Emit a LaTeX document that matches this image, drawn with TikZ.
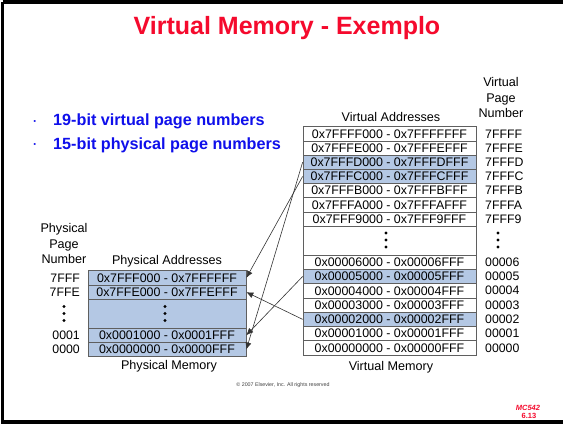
\documentclass[tikz,border=0pt]{standalone}
\usepackage{fontspec}
\setmainfont{Liberation Sans}
\usetikzlibrary{arrows.meta}
\definecolor{titlered}{RGB}{245,10,45}
\definecolor{bulletblue}{RGB}{15,15,235}
\definecolor{cellblue}{RGB}{180,200,228}
\definecolor{cellborder}{RGB}{95,95,95}
\begin{document}
\begin{tikzpicture}[x=1pt,y=-1pt,
  cell/.style={draw=cellborder,line width=0.7pt,inner sep=0pt,minimum height=14.2pt,font=\fontsize{12.4}{14}\selectfont},
  vcell/.style={cell,minimum width=173pt},
  vcellb/.style={vcell,minimum height=14.3pt},
  pcell/.style={cell,minimum width=158pt,minimum height=14.3pt,fill=cellblue},
  hl/.style={fill=cellblue},
  lbl/.style={font=\fontsize{12.6}{15.5}\selectfont,inner sep=0pt,align=center},
  num/.style={font=\fontsize{12.3}{14}\selectfont,inner sep=0pt},
  map/.style={draw=black!80,line width=0.6pt,-{Latex[length=7pt,width=6pt]}},
  bul/.style={font=\bfseries\fontsize{16.2}{18}\selectfont,text=bulletblue,inner sep=0pt},
  dotc/.style={fill=black}
]
\useasboundingbox (0,0) rectangle (563,424);
\fill[white] (0,0) rectangle (563,424);
\draw[line width=3.5pt] (2.5,2) -- (2.5,422) -- (620,422);
\draw[line width=3.5pt] (2.5,2) -- (620,2);

% title and bullets
\node[font=\bfseries\fontsize{25}{26}\selectfont,text=titlered,inner sep=0pt] (title) at (287,28) {Virtual Memory - Exemplo};
\node[bul,font=\bfseries\fontsize{12}{14}\selectfont] (d1) at (35,123) {·};
\node[bul,anchor=west] (b1) at (53,121.5) {19-bit virtual page numbers};
\node[bul,font=\bfseries\fontsize{12}{14}\selectfont] (d2) at (35,146.5) {·};
\node[bul,anchor=west] (b2) at (53,145) {15-bit physical page numbers};

% virtual memory
\node[lbl] (vahdr) at (391,117) {Virtual Addresses};
\node[lbl] (vpnhdr) at (501,97.5) {Virtual\\Page\\Number};
\node[vcell] (v7FFFF) at (389.5,133.8) {0x7FFFF000 - 0x7FFFFFFF};
\node[vcell] (v7FFFE) at (389.5,148) {0x7FFFE000 - 0x7FFFEFFF};
\node[vcell,hl] (v7FFFD) at (389.5,162.2) {0x7FFFD000 - 0x7FFFDFFF};
\node[vcell,hl] (v7FFFC) at (389.5,176.4) {0x7FFFC000 - 0x7FFFCFFF};
\node[vcell] (v7FFFB) at (389.5,190.6) {0x7FFFB000 - 0x7FFFBFFF};
\node[vcell] (v7FFFA) at (389.5,204.8) {0x7FFFA000 - 0x7FFFAFFF};
\node[vcell] (v7FFF9) at (389.5,219) {0x7FFF9000 - 0x7FFF9FFF};
\node[vcell,minimum height=28.9pt] (vdots) at (389.5,240.55) {};
\node[vcellb] (v00006) at (389.5,262.15) {0x00006000 - 0x00006FFF};
\node[vcellb,hl] (v00005) at (389.5,276.45) {0x00005000 - 0x00005FFF};
\node[vcellb] (v00004) at (389.5,290.75) {0x00004000 - 0x00004FFF};
\node[vcellb] (v00003) at (389.5,305.05) {0x00003000 - 0x00003FFF};
\node[vcellb,hl] (v00002) at (389.5,319.35) {0x00002000 - 0x00002FFF};
\node[vcellb] (v00001) at (389.5,333.65) {0x00001000 - 0x00001FFF};
\node[vcellb] (v00000) at (389.5,347.95) {0x00000000 - 0x00000FFF};
\node[lbl] (vmem) at (391,367) {Virtual Memory};
\foreach \yy in {233,240,247} {\fill[dotc] (386,\yy) circle (1.7pt); \fill[dotc] (498,\yy) circle (1.7pt);}

\node[num,anchor=west] (n7FFFF) at (485,133.8) {7FFFF};
\node[num,anchor=west] (n7FFFE) at (485,148) {7FFFE};
\node[num,anchor=west] (n7FFFD) at (485,162.2) {7FFFD};
\node[num,anchor=west] (n7FFFC) at (485,176.4) {7FFFC};
\node[num,anchor=west] (n7FFFB) at (485,190.6) {7FFFB};
\node[num,anchor=west] (n7FFFA) at (485,204.8) {7FFFA};
\node[num,anchor=west] (n7FFF9) at (485,219) {7FFF9};
\node[num,anchor=west] (n00006) at (485,262.15) {00006};
\node[num,anchor=west] (n00005) at (485,276.45) {00005};
\node[num,anchor=west] (n00004) at (485,290.75) {00004};
\node[num,anchor=west] (n00003) at (485,305.05) {00003};
\node[num,anchor=west] (n00002) at (485,319.35) {00002};
\node[num,anchor=west] (n00001) at (485,333.65) {00001};
\node[num,anchor=west] (n00000) at (485,347.95) {00000};

% physical memory
\node[lbl] (pphdr) at (64,243.5) {Physical\\Page\\Number};
\node[lbl] (pahdr) at (167,261) {Physical Addresses};
\node[pcell] (p7FFF) at (167,277.85) {0x7FFF000 - 0x7FFFFFF};
\node[pcell] (p7FFE) at (167,292.15) {0x7FFE000 - 0x7FFEFFF};
\node[pcell,minimum height=28.7pt] (pdots) at (167,313.65) {};
\node[pcell] (p0001) at (167,335.15) {0x0001000 - 0x0001FFF};
\node[pcell] (p0000) at (167,349.45) {0x0000000 - 0x0000FFF};
\node[lbl] (pmem) at (169,366) {Physical Memory};
\foreach \yy in {306.5,313.5,320.5} {\fill[dotc] (165,\yy) circle (1.7pt); \fill[dotc] (64,\yy) circle (1.7pt);}

\node[num,anchor=east] (q7FFF) at (80,277.85) {7FFF};
\node[num,anchor=east] (q7FFE) at (80,292.15) {7FFE};
\node[num,anchor=east] (q0001) at (80,335.15) {0001};
\node[num,anchor=east] (q0000) at (80,349.45) {0000};

% mappings
\draw[map] (v7FFFD.west) -- (p0000.east);
\draw[map] (v7FFFC.west) -- (p7FFF.east);
\draw[map] (v00005.west) -- (p0001.east);
\draw[map] (v00002.west) -- (p7FFE.east);

% footer
\node[font=\fontsize{5.3}{6}\selectfont,text=black!75,inner sep=0pt] (copy) at (283,385) {\textcopyright{} 2007 Elsevier, Inc. All rights reserved};
\node[font=\bfseries\itshape\fontsize{7.5}{8}\selectfont,text=titlered,inner sep=0pt] (mc) at (528,407.5) {MC542};
\node[font=\bfseries\fontsize{7.5}{8}\selectfont,text=titlered,inner sep=0pt] (pg) at (529,415.5) {6.13};
\end{tikzpicture}
\end{document}
